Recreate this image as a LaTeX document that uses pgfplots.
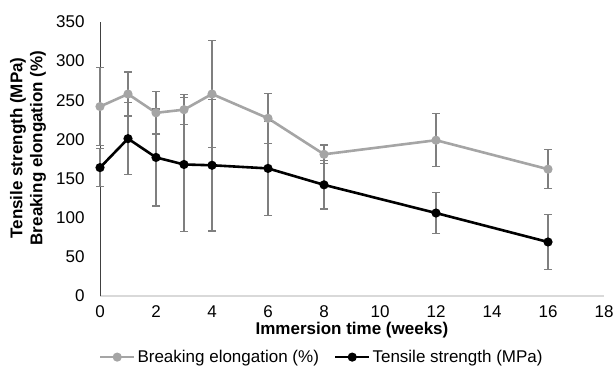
\documentclass[border=0pt]{standalone}
\usepackage{fontspec}
\setmainfont{Liberation Sans}
\usepackage{pgfplots}
\usepackage{pgfplotstable}
\pgfplotsset{compat=1.18}
\definecolor{elong}{HTML}{A5A5A5}
\definecolor{errc}{HTML}{7F7F7F}
\definecolor{xax}{HTML}{D9D9D9}
\definecolor{yax}{HTML}{404040}
\pgfplotstableread{
x y e
0 242 50
1 258 28
2 234 27
3 238 19
4 258 68
6 227 32
8 181 12
12 199 34
16 162 25
}\elongtab
\pgfplotstableread{
x y e
0 164 24
1 201 46
2 177 62
3 168 86
4 167 84
6 163 60
8 142 31
12 106 26
16 69 35
}\tensiletab
\newcommand{\fs}{\fontsize{17bp}{20bp}\selectfont}
\begin{document}
\begin{tikzpicture}[x=1bp,y=1bp]
\useasboundingbox (0,0) rectangle (614,371);
\begin{axis}[
  at={(100bp,75bp)}, anchor=south west,
  scale only axis, width=504bp, height=274bp,
  xmin=0, xmax=18, ymin=0, ymax=350,
  xtick={0,2,...,18}, ytick={0,50,...,350},
  axis x line*=bottom, axis y line*=left,
  x axis line style={xax, line width=1.5bp, -},
  y axis line style={yax, line width=1bp, -},
  major tick length=0,
  tick label style={font=\fs},
  yticklabel style={xshift=-12bp},
  xticklabel style={yshift=-6bp},
  /pgf/number format/assume math mode=true,
  xlabel={Immersion time (weeks)},
  xlabel style={font=\bfseries\fs, at={(axis description cs:0.5,-0.124)}, anchor=center},
  legend style={at={(0.44,-0.223)}, anchor=center, draw=none, fill=none, font=\fs,
    legend columns=2, /tikz/every even column/.append style={column sep=13bp}},
  legend image code/.code={\draw[mark repeat=2,mark phase=2] plot coordinates {(0bp,0bp) (17bp,0bp) (34bp,0bp)};},
  error bars/error bar style={errc, line width=1.3bp},
  error bars/error mark options={errc, line width=1.3bp, mark size=4bp, rotate=90},
  clip=false,
]
\addplot[elong, line width=2.6bp, mark=*, mark size=3.2bp, mark options={fill=elong, draw=elong},
  error bars/.cd, y dir=both, y explicit]
  table[x=x, y=y, y error=e] {\elongtab};
\addlegendentry{Breaking elongation (\%)}
\addplot[black, line width=2.6bp, mark=*, mark size=3.2bp, mark options={fill=black, draw=black},
  error bars/.cd, y dir=both, y explicit]
  table[x=x, y=y, y error=e] {\tensiletab};
\addlegendentry{Tensile strength (MPa)}
\end{axis}
\node[rotate=90, align=center, font=\bfseries\fs] at (28,223) {Tensile strength (MPa)\\Breaking elongation (\%)};
\end{tikzpicture}
\end{document}
